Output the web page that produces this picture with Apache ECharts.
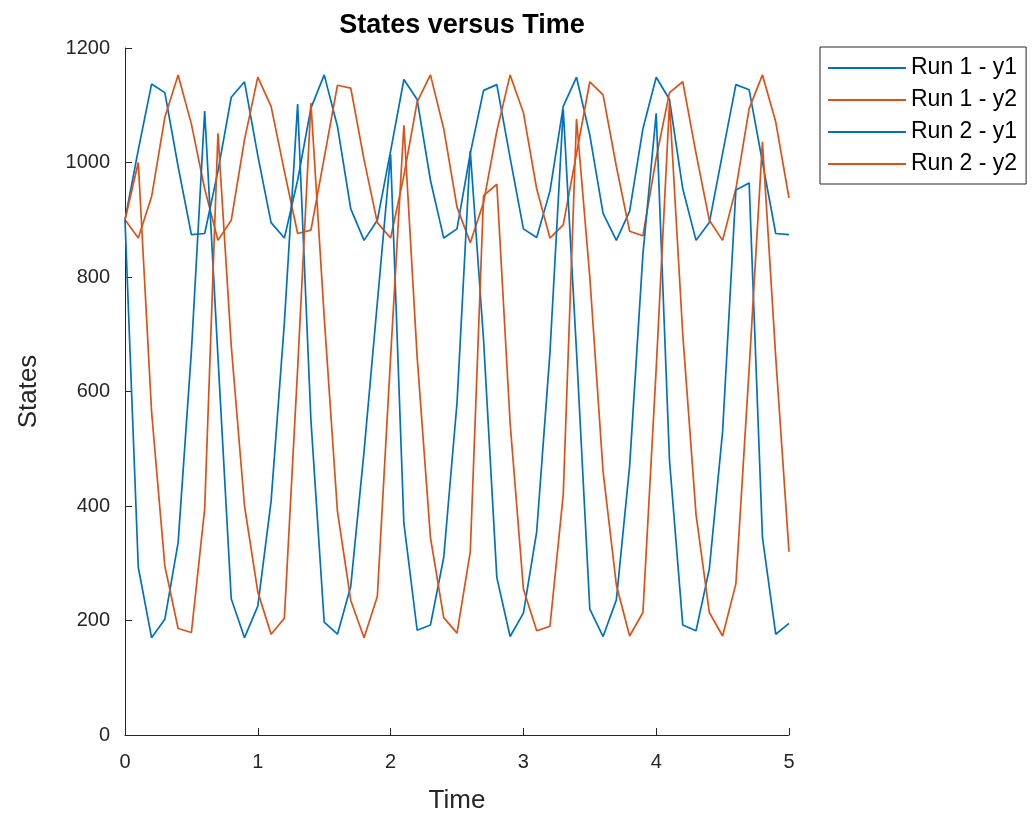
<!DOCTYPE html>
<html>
<head>
<meta charset="utf-8">
<script src="https://cdn.jsdelivr.net/npm/echarts@6/dist/echarts.min.js"></script>
<style>
html,body{margin:0;padding:0;background:#fff;}
#chart{width:1034px;height:819px;}
</style>
</head>
<body>
<div id="chart"></div>
<script>
const times = [0,0.1,0.2,0.3,0.4,0.5,0.6,0.7,0.8,0.9,1.0,1.1,1.2,1.3,1.4,1.5,1.6,1.7,1.8,1.9,2.0,2.1,2.2,2.3,2.4,2.5,2.6,2.7,2.8,2.9,3.0,3.1,3.2,3.3,3.4,3.5,3.6,3.7,3.8,3.9,4.0,4.1,4.2,4.3,4.4,4.5,4.6,4.7,4.8,4.9,5.0];

const run1Y1 = [900,1022,1137,1122,993,874,876,985,1114,1141,1012,895,868,969,1095,1153,1063,919,864,899,1020,1145,1110,969,868,884,1016,1126,1136,1008,884,869,950,1098,1149,1048,911,864,915,1059,1149,1110,954,864,895,1016,1136,1127,1001,876,874];

const run1Y2 = [900,868,940,1079,1153,1067,954,864,899,1040,1149,1098,985,876,882,1008,1135,1130,1005,895,868,977,1106,1153,1059,922,860,930,1055,1153,1087,954,868,891,1016,1141,1118,993,880,872,1008,1122,1141,1016,899,864,954,1094,1153,1071,938];

const run2Y1 = [900,293,170,202,336,670,1090,660,238,170,225,408,720,1102,550,197,176,260,495,755,1014,370,183,192,310,580,1020,690,275,172,213,355,668,1093,670,220,172,236,470,840,1086,480,192,182,290,530,952,964,345,176,195];

const run2Y2 = [900,1000,565,295,186,179,395,1051,680,400,250,176,204,640,1104,730,390,235,170,242,660,1065,660,345,205,178,320,942,962,545,255,182,190,420,1076,800,460,262,173,214,640,1104,700,385,214,173,264,640,1036,660,320];

const seriesNames = ['Run 1 - y1','Run 1 - y2','Run 2 - y1','Run 2 - y2'];
const xTicks = [0,1,2,3,4,5];
const yTicks = [0,200,400,600,800,1000,1200];

const BLUE = '#0072BD';
const ORANGE = '#D95319';
const AX = '#262626';
const FONT = 'Liberation Sans, Arial, Helvetica, sans-serif';

function pairs(vals){ return times.map((t,i)=>[t, vals[i]]); }

const allData = [run1Y1, run1Y2, run2Y1, run2Y2];
const colors = [BLUE, ORANGE, BLUE, ORANGE];

const chart = echarts.init(document.getElementById('chart'), null, {renderer:'canvas'});
chart.setOption({
  animation: false,
  backgroundColor: '#fff',
  title: {
    text: 'States versus Time',
    left: 457,
    textAlign: 'center',
    top: 7,
    textStyle: {fontFamily: FONT, fontSize: 27, fontWeight: 'bold', color: '#000'}
  },
  grid: {left: 125, right: 245, top: 48, bottom: 84, containLabel: false},
  legend: {
    orient: 'vertical',
    left: 820,
    top: 47,
    data: seriesNames.map((n,i)=>({name:n, icon:'rect', itemStyle:{color:colors[i]}})),
    itemWidth: 78,
    itemHeight: 2,
    itemGap: 8,
    padding: [9, 9, 8, 8],
    borderColor: AX,
    borderWidth: 1,
    backgroundColor: '#fff',
    textStyle: {fontFamily: FONT, fontSize: 23, color: '#000', lineHeight: 24}
  },
  xAxis: {
    type: 'value',
    min: xTicks[0],
    max: xTicks[xTicks.length-1],
    interval: 1,
    name: 'Time',
    nameLocation: 'middle',
    nameGap: 53,
    nameTextStyle: {fontFamily: FONT, fontSize: 26, color: AX},
    axisLine: {show: true, onZero: false, lineStyle: {color: AX, width: 1}},
    axisTick: {show: true, inside: true, length: 7, lineStyle: {color: AX}},
    axisLabel: {fontFamily: FONT, fontSize: 20, color: AX, margin: 17, formatter: v => String(v)},
    splitLine: {show: false}
  },
  yAxis: {
    type: 'value',
    min: yTicks[0],
    max: yTicks[yTicks.length-1],
    interval: 200,
    name: 'States',
    nameLocation: 'middle',
    nameGap: 83,
    nameRotate: 90,
    nameTextStyle: {fontFamily: FONT, fontSize: 26, color: AX},
    axisLine: {show: true, onZero: false, lineStyle: {color: AX, width: 1}},
    axisTick: {show: true, inside: true, length: 7, lineStyle: {color: AX}},
    axisLabel: {fontFamily: FONT, fontSize: 20, color: AX, margin: 15, formatter: v => String(v)},
    splitLine: {show: false}
  },
  series: allData.map((vals,i)=>({
    name: seriesNames[i],
    type: 'line',
    data: pairs(vals),
    symbol: 'none',
    showSymbol: false,
    lineStyle: {color: colors[i], width: 1.7},
    itemStyle: {color: colors[i]},
    clip: false
  }))
});
</script>
</body>
</html>
